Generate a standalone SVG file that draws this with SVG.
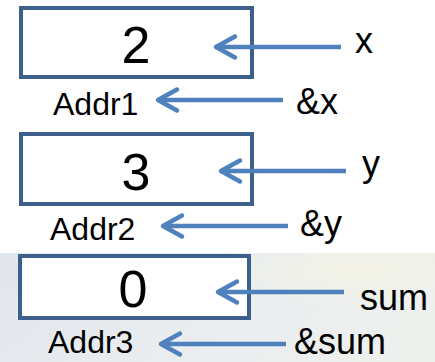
<svg xmlns="http://www.w3.org/2000/svg" width="435" height="362" viewBox="0 0 435 362">
  <style>
    .box { fill: #ffffff; stroke: #3c5f8c; stroke-width: 4; }
    .val { font-family: "Liberation Sans", Arial, sans-serif; font-size: 52px; fill: #000; text-anchor: middle; }
    .addr { font-family: "Liberation Sans", Arial, sans-serif; font-size: 32px; fill: #000; }
    .lbl { font-family: "Liberation Sans", Arial, sans-serif; font-size: 36px; fill: #000; }
    .conn { fill: none; stroke: #4f81bd; stroke-width: 4.5; marker-end: url(#chev); }
  </style>
  <defs>
    <marker id="chev" markerUnits="userSpaceOnUse" markerWidth="30" markerHeight="30" refX="0" refY="0" orient="auto" overflow="visible" viewBox="-25 -15 30 30">
      <path d="M -19 -10.5 L 0 0 L -19 10.5" fill="none" stroke="#4f81bd" stroke-width="4.5" stroke-linecap="round" stroke-linejoin="round"/>
    </marker>
    <linearGradient id="bg" x1="0" y1="0" x2="1" y2="0.3">
      <stop offset="0" stop-color="#e1e6ec"/>
      <stop offset="0.6" stop-color="#e9edf0"/>
      <stop offset="1" stop-color="#eef0ee"/>
    </linearGradient>
    <radialGradient id="glow" cx="0.82" cy="0.15" r="0.35">
      <stop offset="0" stop-color="#f4f3e4" stop-opacity="0.9"/>
      <stop offset="1" stop-color="#f4f3e4" stop-opacity="0"/>
    </radialGradient>
  </defs>

  <rect x="0" y="253" width="435" height="109" fill="url(#bg)"/>
  <rect x="0" y="253" width="435" height="109" fill="url(#glow)"/>

  <g id="cell-x">
    <rect class="box" x="21" y="8" width="231" height="69"/>
    <text class="val" x="136" y="63">2</text>
  </g>
  <g id="label-x"><text class="lbl" x="355" y="53">x</text></g>
  <g id="addr1"><text class="addr" x="53" y="115">Addr1</text></g>
  <g id="ref-x"><text class="lbl" x="296" y="114">&amp;x</text></g>

  <g id="cell-y">
    <rect class="box" x="21" y="134" width="231" height="70"/>
    <text class="val" x="136" y="190">3</text>
  </g>
  <g id="label-y"><text class="lbl" x="362" y="176">y</text></g>
  <g id="addr2"><text class="addr" x="50" y="240">Addr2</text></g>
  <g id="ref-y"><text class="lbl" x="300" y="236">&amp;y</text></g>

  <g id="cell-sum">
    <rect class="box" x="20" y="256" width="229" height="62"/>
    <text class="val" x="133" y="307">0</text>
  </g>
  <g id="label-sum"><text class="lbl" x="360" y="310">sum</text></g>
  <g id="addr3"><text class="addr" x="48" y="353">Addr3</text></g>
  <g id="ref-sum"><text class="lbl" x="294" y="354">&amp;sum</text></g>

  <g id="connectors">
    <line class="conn" x1="341" y1="47" x2="216" y2="47"/>
    <line class="conn" x1="283" y1="100" x2="158" y2="100"/>
    <line class="conn" x1="346" y1="171" x2="221" y2="171"/>
    <line class="conn" x1="288" y1="226" x2="163" y2="226"/>
    <line class="conn" x1="344" y1="292" x2="218" y2="292"/>
    <line class="conn" x1="286" y1="344" x2="161" y2="344"/>
  </g>
</svg>
